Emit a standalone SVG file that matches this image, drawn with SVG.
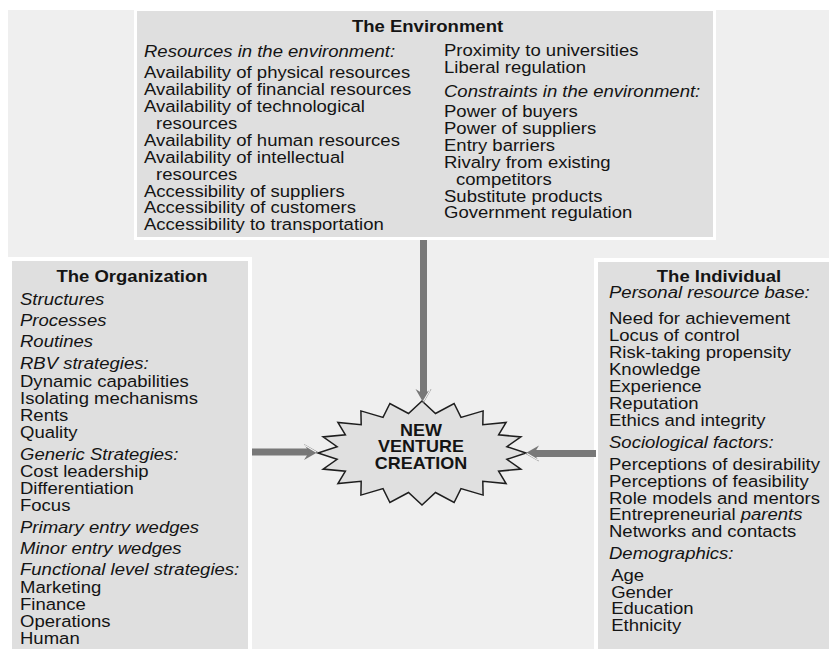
<svg xmlns="http://www.w3.org/2000/svg" width="829" height="649" viewBox="0 0 829 649">
<style>
.t{font-family:"Liberation Sans",Arial,Helvetica,sans-serif;font-size:17px;fill:#141414}
.b{font-weight:bold}
.i{font-style:italic}
.box{fill:#dfdfdf}
.rim{fill:#ffffff}
.conn{stroke:#787878;stroke-width:7;fill:none}
</style>
<defs>
<marker id="ah" markerUnits="userSpaceOnUse" markerWidth="20" markerHeight="20" refX="5" refY="10" orient="auto" overflow="visible">
<path d="M0,2 L14,10 L0,18 L5,10 Z" fill="#787878"/>
<path d="M1,3.5 L12,10" stroke="#f4f4f4" stroke-width="1.2" fill="none"/>
</marker>
</defs>
<rect x="0" y="0" width="829" height="649" fill="#ffffff"/>
<rect x="8" y="10" width="821" height="639" fill="#efefef"/>

<g id="environment">
<rect class="rim" x="134" y="10" width="582" height="230"/>
<rect class="box" x="137" y="11" width="576" height="226"/>
<g transform="translate(427.5 0) scale(1.09 1)"><text class="t b" x="0" y="32" text-anchor="middle">The Environment</text></g>
<g transform="translate(144 0) scale(1.09 1)">
<text class="t i" x="0" y="57">Resources in the environment:</text>
<text class="t" x="0" y="78">Availability of physical resources</text>
<text class="t" x="0" y="95">Availability of financial resources</text>
<text class="t" x="0" y="112">Availability of technological</text>
<text class="t" x="11" y="129">resources</text>
<text class="t" x="0" y="146">Availability of human resources</text>
<text class="t" x="0" y="163">Availability of intellectual</text>
<text class="t" x="11" y="180">resources</text>
<text class="t" x="0" y="197">Accessibility of suppliers</text>
<text class="t" x="0" y="213">Accessibility of customers</text>
<text class="t" x="0" y="230">Accessibility to transportation</text>
</g>
<g transform="translate(444 0) scale(1.09 1)">
<text class="t" x="0" y="56">Proximity to universities</text>
<text class="t" x="0" y="73">Liberal regulation</text>
<text class="t i" x="0" y="97">Constraints in the environment:</text>
<text class="t" x="0" y="117">Power of buyers</text>
<text class="t" x="0" y="134">Power of suppliers</text>
<text class="t" x="0" y="151">Entry barriers</text>
<text class="t" x="0" y="168">Rivalry from existing</text>
<text class="t" x="11" y="185">competitors</text>
<text class="t" x="0" y="202">Substitute products</text>
<text class="t" x="0" y="218">Government regulation</text>
</g>
</g>

<g id="organization">
<rect class="rim" x="8" y="257" width="244" height="392"/>
<rect class="box" x="12" y="261" width="236" height="388"/>
<g transform="translate(132 0) scale(1.09 1)"><text class="t b" x="0" y="282" text-anchor="middle">The Organization</text></g>
<g transform="translate(20 0) scale(1.09 1)">
<text class="t i" x="0" y="305">Structures</text>
<text class="t i" x="0" y="326">Processes</text>
<text class="t i" x="0" y="347">Routines</text>
<text class="t i" x="0" y="369">RBV strategies:</text>
<text class="t" x="0" y="387">Dynamic capabilities</text>
<text class="t" x="0" y="404">Isolating mechanisms</text>
<text class="t" x="0" y="421">Rents</text>
<text class="t" x="0" y="438">Quality</text>
<text class="t i" x="0" y="460">Generic Strategies:</text>
<text class="t" x="0" y="477">Cost leadership</text>
<text class="t" x="0" y="494">Differentiation</text>
<text class="t" x="0" y="511">Focus</text>
<text class="t i" x="0" y="533">Primary entry wedges</text>
<text class="t i" x="0" y="554">Minor entry wedges</text>
<text class="t i" x="0" y="575">Functional level strategies:</text>
<text class="t" x="0" y="593">Marketing</text>
<text class="t" x="0" y="610">Finance</text>
<text class="t" x="0" y="627">Operations</text>
<text class="t" x="0" y="644">Human</text>
</g>
</g>

<g id="individual">
<rect class="rim" x="594" y="258" width="235" height="391"/>
<rect class="box" x="598" y="262" width="231" height="387"/>
<g transform="translate(719 0) scale(1.09 1)"><text class="t b" x="0" y="282" text-anchor="middle">The Individual</text></g>
<g transform="translate(609 0) scale(1.09 1)">
<text class="t i" x="0" y="298">Personal resource base:</text>
<text class="t" x="0" y="324">Need for achievement</text>
<text class="t" x="0" y="341">Locus of control</text>
<text class="t" x="0" y="358">Risk-taking propensity</text>
<text class="t" x="0" y="375">Knowledge</text>
<text class="t" x="0" y="392">Experience</text>
<text class="t" x="0" y="409">Reputation</text>
<text class="t" x="0" y="426">Ethics and integrity</text>
<text class="t i" x="0" y="448">Sociological factors:</text>
<text class="t" x="0" y="470">Perceptions of desirability</text>
<text class="t" x="0" y="487">Perceptions of feasibility</text>
<text class="t" x="0" y="504">Role models and mentors</text>
<text class="t" x="0" y="520">Entrepreneurial <tspan class="i">parents</tspan></text>
<text class="t" x="0" y="537">Networks and contacts</text>
<text class="t i" x="0" y="559">Demographics:</text>
<text class="t" x="2" y="581">Age</text>
<text class="t" x="2" y="598">Gender</text>
<text class="t" x="2" y="614">Education</text>
<text class="t" x="2" y="631">Ethnicity</text>
</g>
</g>

<g id="new-venture-creation">
<polygon points="422,401 435.5,413.5 454.1,403.5 461,417.4 483.1,410.9 482.8,424.7 506.1,422.4 498.6,434.8 520.9,436.9 506.9,446.7 526,453 506.9,459.3 520.9,469.1 498.6,471.2 506.1,483.6 482.8,481.3 483.1,495.1 461,488.6 454.1,502.5 435.5,492.5 422,505 408.5,492.5 389.9,502.5 383,488.6 360.9,495.1 361.2,481.3 337.9,483.6 345.4,471.2 323.1,469.1 337.1,459.3 318,453 337.1,446.7 323.1,436.9 345.4,434.8 337.9,422.4 361.2,424.7 360.9,410.9 383,417.4 389.9,403.5 408.5,413.5" fill="#e0e0e0" stroke="#1e1e1e" stroke-width="1.5" stroke-linejoin="miter"/>
<g transform="translate(421 0) scale(1.09 1)">
<text class="t b" x="0" y="436" text-anchor="middle" style="font-size:16.5px">NEW</text>
<text class="t b" x="0" y="452.5" text-anchor="middle" style="font-size:16.5px">VENTURE</text>
<text class="t b" x="0" y="469" text-anchor="middle" style="font-size:16.5px">CREATION</text>
</g>
</g>

<g id="connectors">
<line class="conn" x1="423.5" y1="240" x2="423.5" y2="394" marker-end="url(#ah)"/>
<line class="conn" x1="252" y1="452" x2="309" y2="452" marker-end="url(#ah)"/>
<line class="conn" x1="596" y1="453.5" x2="534" y2="453.5" marker-end="url(#ah)"/>
</g>
</svg>
